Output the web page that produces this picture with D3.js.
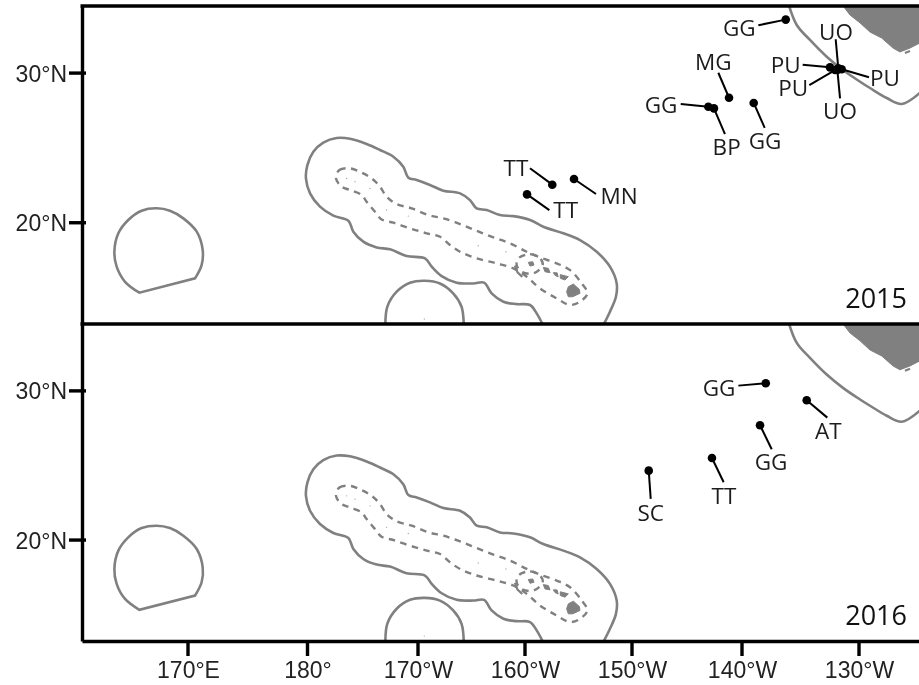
<!DOCTYPE html>
<html>
<head>
<meta charset="utf-8">
<title>Tag positions 2015 and 2016</title>
<script src="https://cdnjs.cloudflare.com/ajax/libs/d3/7.8.5/d3.min.js"></script>
<style>
    html, body { margin: 0; padding: 0; background: #fff; }
    svg { display: block; filter: blur(0.35px); }
    .tag-label { font-family: "Open Sans", sans-serif; font-size: 22.5px; fill: #1c1c1c; text-anchor: middle; }
    .year { font-family: "Open Sans", sans-serif; font-size: 27px; fill: #111; text-anchor: end; }
    .axis text { font-family: "Liberation Sans", Arial, sans-serif; font-size: 23px; fill: #222; }
    .axis line, .axis path { stroke: #000; stroke-width: 3.4px; fill: none; }
</style>
</head>
<body>
<svg id="map" width="919" height="685"></svg>
<script>
// longitudes are degrees east, 0-360 (190 = 170W)
const lonTicks = [170, 180, 190, 200, 210, 220, 230];
const lonTickLabels = ["170°E", "180°", "170°W", "160°W", "150°W", "140°W", "130°W"];
const latTicks = [20, 30];
const latTickLabels = ["20°N", "30°N"];
const years = ["2015", "2016"];

// tag positions per year
const codes2015 = ["GG", "MG", "GG", "BP", "GG", "PU", "PU", "UO", "UO", "PU", "TT", "MN", "TT"];
const lons2015 = [223.74, 218.82, 216.94, 217.45, 221.0, 227.52, 227.95, 228.23, 228.15, 228.52, 202.55, 204.58, 200.19];
const lats2015 = [33.54, 28.32, 27.72, 27.61, 27.97, 30.35, 30.17, 30.29, 30.17, 30.22, 22.51, 22.89, 21.86];
const codes2016 = ["GG", "AT", "GG", "TT", "SC"];
const lons2016 = [222.03, 225.53, 221.54, 217.27, 211.52];
const lats2016 = [30.48, 29.34, 27.66, 25.47, 24.62];

// 200 nm zone round the Hawaiian chain
const hawaiiZone = [[207.3, 13.1], [207.94, 14.02], [208.5, 15.02], [208.57, 15.91], [207.94, 17.03], [206.7, 18.03], [205.14, 18.81], [203.58, 19.26], [201.71, 19.7], [200.47, 20.15], [198.91, 20.41], [197.66, 20.48], [196.42, 20.82], [195.48, 20.93], [194.86, 21.48], [193.93, 21.93], [192.37, 22.11], [191.12, 22.49], [189.88, 22.82], [189.13, 22.98], [188.67, 23.71], [187.77, 24.38], [186.56, 24.83], [185.35, 25.23], [183.85, 25.58], [182.64, 25.63], [181.43, 25.32], [180.53, 24.71], [179.99, 23.82], [179.87, 22.93], [180.23, 21.93], [181.13, 21.04], [182.34, 20.44], [183.7, 20.1], [184.15, 19.37], [185.05, 18.7], [186.26, 18.32], [187.47, 18.19], [188.97, 17.74], [190.65, 17.59], [191.28, 17.03], [192.21, 16.4], [193.61, 15.96], [195.17, 15.91], [196.17, 15.96], [196.88, 15.25], [197.98, 14.69], [199.22, 14.53], [200.47, 14.47], [201.09, 13.91], [201.7, 13.1]];
const johnstonZone = [[187.05, 13.0], [187.22, 14.35], [188.07, 15.36], [189.28, 15.96], [190.65, 16.09], [192.05, 15.91], [193.29, 15.25], [194.07, 14.35], [194.28, 13.0]];
const wakeZone = [[170.59, 16.25], [171.14, 17.14], [171.23, 18.14], [170.73, 19.37], [169.61, 20.26], [168.49, 20.77], [167.38, 20.93], [166.12, 20.77], [165.0, 20.15], [164.17, 19.26], [163.84, 18.03], [164.03, 17.03], [164.73, 16.02], [165.93, 15.29]];
const usZone = [[223.93, 34.7], [224.68, 33.18], [225.81, 32.18], [227.24, 31.06], [228.63, 30.17], [230.09, 29.39], [230.94, 28.97], [232.37, 28.3], [233.65, 27.9], [235.2, 28.64]];

// dashed monument boundaries
const monumentLine = [[182.58, 22.93], [182.88, 23.49], [183.85, 23.6], [184.9, 23.31], [185.81, 22.93], [186.56, 22.38], [187.16, 21.71], [188.07, 21.22], [189.43, 20.93], [190.97, 20.48], [192.37, 20.26], [193.93, 19.88], [195.48, 19.43], [197.04, 18.99], [198.6, 18.59], [200.16, 18.03], [201.4, 17.65], [202.96, 17.25], [204.21, 16.8], [205.3, 15.91], [205.83, 15.25], [205.14, 14.69], [204.21, 14.47], [202.96, 14.91], [201.4, 15.58], [200.16, 16.36], [198.91, 16.92], [197.35, 17.25], [195.48, 17.59], [193.93, 18.03], [192.99, 18.48], [192.06, 19.03], [190.81, 19.26], [189.27, 19.59], [187.77, 19.97], [186.71, 20.19], [186.11, 20.7], [185.35, 21.37], [184.9, 21.82], [183.85, 22.15], [183.09, 22.38]];
const kauaiRing = [[199.38, 17.59], [200.47, 17.87], [201.4, 17.59], [201.65, 17.14], [200.78, 16.58], [199.69, 16.69], [199.22, 17.14]];
const niihauDash = [[199.05, 17.1], [199.3, 16.65], [199.75, 16.35]];
const channelDash = [[233.93, 31.31], [234.36, 31.45]];

// land
const bigIsland = [[204.05, 15.69], [204.52, 15.87], [205.08, 15.51], [205.14, 15.25], [204.46, 15.02], [204.05, 15.02], [203.89, 15.36]];
const mauiWest = [[202.65, 16.63], [203.0, 16.62], [203.1, 16.35], [202.8, 16.45]];
const mauiEast = [[203.3, 16.5], [204.05, 16.36], [203.74, 16.14], [203.3, 16.25]];
const oahu = [[201.71, 16.98], [202.18, 16.92], [202.34, 16.63], [201.87, 16.69]];
const kauai = [[200.31, 17.32], [200.72, 17.36], [200.84, 17.14], [200.47, 17.07]];
const northAmerica = [[228.38, 34.72], [229.23, 33.85], [230.09, 33.32], [230.94, 32.71], [231.94, 32.31], [232.91, 31.64], [233.5, 31.38], [234.36, 31.64], [235.2, 31.98], [235.2, 34.72]];
const islets = [[183.54, 22.93], [184.3, 22.71], [185.66, 22.26], [187.16, 20.82], [189.12, 20.41], [195.63, 18.43], [198.22, 18.03], [190.59, 13.53]];

// label placement, px away from the tag dot: [leader end x, y, label x, y]
const layout2015 = [[-27.4, 5.6, -46.4, 8], [-10.7, -25, -15.7, -36], [-27.6, -2.7, -47.3, -1.7], [11, 25.7, 12.7, 38.4], [11, 25, 11.3, 37.7], [-27.3, -2.6, -44.3, -2.3], [-25.7, 15, -41.7, 17.7], [-2.6, -29, -2.3, -36.6], [2.7, 28.3, 2.7, 41], [27.3, 8, 43.3, 8.4], [-22.3, -16.4, -36.3, -16.4], [22, 15, 45, 17], [22.3, 15.7, 38.7, 15.7]];
const layout2016 = [[-27.4, 2.4, -46.7, 5], [20.6, 17.4, 21.6, 30.4], [11.7, 24, 11, 36.4], [11.7, 24.3, 12, 38], [2, 28.3, 2, 42]];

const landGrey = "#808080";
const lineGrey = "#808080";

// the map is a little wider at the edges, so the scale has one piece per tick
const x = d3.scaleLinear()
    .domain([161.13, 170, 180, 190, 200, 210, 220, 230, 235.13])
    .range([82, 188, 307.5, 418, 525, 632, 742, 859, 919]);
const latDomain = [13.2, 34.45];
const yTop = d3.scaleLinear().domain(latDomain).range([324, 6]);
const yBottom = d3.scaleLinear().domain(latDomain).range([641, 324]);

const svg = d3.select("#map");
const defs = svg.append("defs");

function drawPanel(name, y, year, codes, lons, lats, layout) {
    defs.append("clipPath").attr("id", "clip" + name)
        .append("rect")
        .attr("x", x.range()[0]).attr("width", 919 - x.range()[0])
        .attr("y", y.range()[1]).attr("height", y.range()[0] - y.range()[1]);

    let g = svg.append("g").attr("clip-path", "url(#clip" + name + ")");

    let smooth = d3.line().x(d => x(d[0])).y(d => y(d[1])).curve(d3.curveCatmullRom.alpha(0.5));
    let smoothLoop = d3.line().x(d => x(d[0])).y(d => y(d[1])).curve(d3.curveCatmullRomClosed.alpha(0.5));
    let straight = d3.line().x(d => x(d[0])).y(d => y(d[1]));

    // land under everything else
    g.selectAll("path.land")
        .data([bigIsland, mauiWest, mauiEast, oahu, kauai, northAmerica])
        .enter().append("path")
        .attr("class", "land")
        .attr("d", d => straight(d) + "Z")
        .attr("fill", landGrey)
        .attr("stroke", landGrey)
        .attr("stroke-width", 1);

    g.selectAll("circle.islet")
        .data(islets)
        .enter().append("circle")
        .attr("class", "islet")
        .attr("cx", d => x(d[0]))
        .attr("cy", d => y(d[1]))
        .attr("r", 0.7)
        .attr("fill", "#aaa");

    // zones. wake has a straight cut across the bottom, hence the Z
    g.selectAll("path.zone")
        .data([hawaiiZone, johnstonZone, usZone])
        .enter().append("path")
        .attr("class", "zone")
        .attr("d", smooth)
        .attr("fill", "none")
        .attr("stroke", lineGrey)
        .attr("stroke-width", 2.6);

    g.append("path")
        .attr("d", smooth(wakeZone) + "Z")
        .attr("fill", "none")
        .attr("stroke", lineGrey)
        .attr("stroke-width", 2.6);

    g.selectAll("path.monument")
        .data([monumentLine, kauaiRing])
        .enter().append("path")
        .attr("class", "monument")
        .attr("d", smoothLoop)
        .attr("fill", "none")
        .attr("stroke", lineGrey)
        .attr("stroke-width", 2.4)
        .attr("stroke-dasharray", "6.5 5.5");

    g.selectAll("path.short-dash")
        .data([niihauDash, channelDash])
        .enter().append("path")
        .attr("class", "short-dash")
        .attr("d", straight)
        .attr("fill", "none")
        .attr("stroke", lineGrey)
        .attr("stroke-width", 2.2);

    // tags: leader, dot, label
    let tags = codes.map((code, i) => ({code: code, lon: lons[i], lat: lats[i], place: layout[i]}));

    g.selectAll("line.leader")
        .data(tags)
        .enter().append("line")
        .attr("class", "leader")
        .attr("x1", d => x(d.lon))
        .attr("y1", d => y(d.lat))
        .attr("x2", d => x(d.lon) + d.place[0])
        .attr("y2", d => y(d.lat) + d.place[1])
        .attr("stroke", "#000")
        .attr("stroke-width", 2);

    g.selectAll("circle.tag")
        .data(tags)
        .enter().append("circle")
        .attr("class", "tag")
        .attr("cx", d => x(d.lon))
        .attr("cy", d => y(d.lat))
        .attr("r", 4.3)
        .attr("fill", "#000");

    g.selectAll("text.tag-label")
        .data(tags)
        .enter().append("text")
        .attr("class", "tag-label")
        .attr("x", d => x(d.lon) + d.place[2])
        .attr("y", d => y(d.lat) + d.place[3])
        .attr("dy", "0.36em")
        .text(d => d.code);

    g.append("text")
        .attr("class", "year")
        .attr("x", 907)
        .attr("y", y.range()[0] - 16)
        .text(year);

    // left axis, ticks poke through to the inside
    let left = svg.append("g")
        .attr("class", "axis")
        .attr("transform", "translate(" + x.range()[0] + ",0)")
        .call(d3.axisLeft(y)
            .tickValues(latTicks)
            .tickFormat((d, i) => latTickLabels[i])
            .tickSize(13)
            .tickSizeOuter(0)
            .tickPadding(2));
    left.selectAll(".tick line").attr("x1", 4);
    left.selectAll(".tick text").attr("dy", "0.37em");
}

drawPanel("Top", yTop, years[0], codes2015, lons2015, lats2015, layout2015);
drawPanel("Bottom", yBottom, years[1], codes2016, lons2016, lats2016, layout2016);

// frame lines across the top and between the two panels
svg.selectAll("line.frame")
    .data([yTop.range()[1], yTop.range()[0]])
    .enter().append("line")
    .attr("class", "frame")
    .attr("x1", x.range()[0] - 1.5)
    .attr("x2", 919)
    .attr("y1", d => d)
    .attr("y2", d => d)
    .attr("stroke", "#000")
    .attr("stroke-width", 3.4);

svg.append("g")
    .attr("class", "axis")
    .attr("transform", "translate(0," + yBottom.range()[0] + ")")
    .call(d3.axisBottom(x)
        .tickValues(lonTicks)
        .tickFormat((d, i) => lonTickLabels[i])
        .tickSize(0)
        .tickPadding(21));

// longitude ticks drawn on their own so they sit on top of the axis line
svg.selectAll("line.lon-tick")
    .data(lonTicks)
    .enter().append("line")
    .attr("class", "lon-tick")
    .attr("x1", d => x(d))
    .attr("x2", d => x(d))
    .attr("y1", yBottom.range()[0])
    .attr("y2", yBottom.range()[0] + 15)
    .attr("stroke", "#000")
    .attr("stroke-width", 3.4);
</script>
</body>
</html>
